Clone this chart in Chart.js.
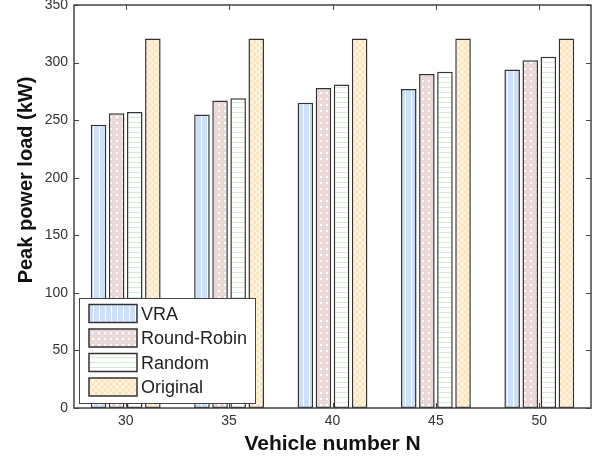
<!DOCTYPE html>
<html>
<head>
<meta charset="utf-8">
<script src="https://cdn.jsdelivr.net/npm/chart.js@4.4.0/dist/chart.umd.min.js"></script>
<style>
  html, body { margin: 0; padding: 0; background: #fff; }
  #wrap { width: 603px; height: 459px; }
</style>
</head>
<body>
<div id="wrap"><canvas id="chart" width="603" height="459"></canvas></div>
<script>
const categories = ['30', '35', '40', '45', '50'];
const vraValues = [246, 255, 265, 277, 294];
const roundRobinValues = [256, 267, 278, 290, 302];
const randomValues = [257, 269, 281, 292, 305];
const originalValues = [321, 321, 321, 321, 321];
const yTicks = [0, 50, 100, 150, 200, 250, 300, 350];

const FONT = 'Arial, "Liberation Sans", sans-serif';

// small tiled fills, like the hatched bars of the original figure
function makePattern(size, draw) {
  const c = document.createElement('canvas');
  c.width = size; c.height = size;
  const g = c.getContext('2d');
  draw(g, size);
  return document.getElementById('chart').getContext('2d').createPattern(c, 'repeat');
}

const vraFill = makePattern(6, (g, s) => {
  g.fillStyle = '#cde0f8'; g.fillRect(0, 0, s, s);
  g.fillStyle = 'rgba(255,255,255,0.9)'; g.fillRect(3, 0, 1, s);
});
const rrFill = makePattern(6, (g, s) => {
  g.fillStyle = '#ebd8d8'; g.fillRect(0, 0, s, s);
  g.fillStyle = '#ffffff'; g.fillRect(2, 2, 2, 2);
});
const randomFill = makePattern(5, (g, s) => {
  g.fillStyle = '#ffffff'; g.fillRect(0, 0, s, s);
  g.fillStyle = '#d3ead3'; g.fillRect(0, 2, s, 1);
});
const originalFill = makePattern(6, (g, s) => {
  g.fillStyle = '#fde5bd'; g.fillRect(0, 0, s, s);
  g.strokeStyle = 'rgba(255,255,255,0.75)'; g.lineWidth = 1;
  g.beginPath();
  g.moveTo(0, 0); g.lineTo(s, s);
  g.moveTo(s, 0); g.lineTo(0, s);
  g.stroke();
});

// box round the plot and inward ticks on all four sides
const frame = {
  id: 'frame',
  afterDatasetsDraw(chart) {
    const { ctx, chartArea: a, scales } = chart;
    ctx.save();
    ctx.strokeStyle = '#444';
    ctx.lineWidth = 1.5;
    ctx.strokeRect(a.left, a.top, a.right - a.left, a.bottom - a.top);
    ctx.lineWidth = 1;
    ctx.beginPath();
    scales.x.ticks.forEach((t, i) => {
      const x = Math.round(scales.x.getPixelForTick(i)) + 0.5;
      ctx.moveTo(x, a.bottom); ctx.lineTo(x, a.bottom - 5);
      ctx.moveTo(x, a.top); ctx.lineTo(x, a.top + 5);
    });
    scales.y.ticks.forEach(t => {
      const y = Math.round(scales.y.getPixelForValue(t.value)) + 0.5;
      ctx.moveTo(a.left, y); ctx.lineTo(a.left + 5, y);
      ctx.moveTo(a.right, y); ctx.lineTo(a.right - 5, y);
    });
    ctx.stroke();
    ctx.restore();
  }
};

// y title sits above the middle of the axis in the source figure
const yTitle = {
  id: 'yTitle',
  afterDraw(chart) {
    const { ctx } = chart;
    ctx.save();
    ctx.translate(26, 180);
    ctx.rotate(-Math.PI / 2);
    ctx.font = 'bold 20px ' + FONT;
    ctx.fillStyle = '#111';
    ctx.textAlign = 'center';
    ctx.textBaseline = 'middle';
    ctx.fillText('Peak power load (kW)', 0, 0);
    ctx.restore();
  }
};

// legend box sitting in the lower left of the plot
const insideLegend = {
  id: 'insideLegend',
  afterDraw(chart) {
    const { ctx, chartArea: a } = chart;
    const left = a.left + 5, bottom = a.bottom - 5;
    const w = 176, rowH = 24.5, h = 105;
    const top = bottom - h;
    ctx.save();
    ctx.fillStyle = '#fff';
    ctx.fillRect(left, top, w, h);
    ctx.strokeStyle = '#444';
    ctx.lineWidth = 1;
    ctx.strokeRect(left + 0.5, top + 0.5, w, h);
    ctx.font = '18px ' + FONT;
    ctx.textBaseline = 'middle';
    chart.data.datasets.forEach((ds, i) => {
      const cy = top + 15.5 + i * rowH;
      ctx.fillStyle = ds.backgroundColor;
      ctx.fillRect(left + 10, cy - 9, 48, 18);
      ctx.strokeStyle = '#333';
      ctx.lineWidth = 1.5;
      ctx.strokeRect(left + 10, cy - 9, 48, 18);
      ctx.fillStyle = '#222';
      ctx.fillText(ds.label, left + 62, cy + 1.5);
    });
    ctx.restore();
  }
};

const barStyle = { borderColor: '#333', borderWidth: 1.5, borderSkipped: false,
  barPercentage: 0.86, categoryPercentage: 0.7 };

new Chart(document.getElementById('chart'), {
  type: 'bar',
  data: {
    labels: categories,
    datasets: [
      { label: 'VRA', data: vraValues, backgroundColor: vraFill, ...barStyle },
      { label: 'Round-Robin', data: roundRobinValues, backgroundColor: rrFill, ...barStyle },
      { label: 'Random', data: randomValues, backgroundColor: randomFill, ...barStyle },
      { label: 'Original', data: originalValues, backgroundColor: originalFill, ...barStyle }
    ]
  },
  options: {
    responsive: false,
    animation: false,
    layout: { padding: { top: 5, right: 12, left: 0, bottom: 0 } },
    plugins: { legend: { display: false }, tooltip: { enabled: false } },
    scales: {
      x: {
        grid: { display: false, drawTicks: false },
        border: { display: false },
        ticks: { color: '#333', font: { size: 14, family: FONT }, padding: 5 },
        title: { display: true, text: 'Vehicle number N', color: '#111',
          font: { size: 21, weight: 'bold', family: FONT }, padding: { top: 0, bottom: 2 } },
        afterFit(s) { s.height = 51; s.paddingLeft = 0; s.paddingRight = 0; }
      },
      y: {
        min: 0, max: 350,
        afterBuildTicks(s) { s.ticks = yTicks.map(v => ({ value: v })); },
        grid: { display: false, drawTicks: false },
        border: { display: false },
        ticks: { color: '#333', font: { size: 14, family: FONT }, padding: 6 },
        title: { display: false },
        afterFit(s) { s.width = 74; s.paddingTop = 0; s.paddingBottom = 0; }
      }
    }
  },
  plugins: [frame, yTitle, insideLegend]
});
</script>
</body>
</html>
